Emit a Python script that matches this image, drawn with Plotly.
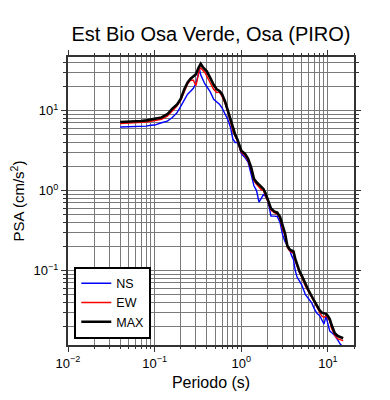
import plotly.graph_objects as go

# ---- data ----
periods = [0.04, 0.05, 0.06, 0.07, 0.08, 0.09, 0.10, 0.12, 0.14, 0.16, 0.18, 0.20,
           0.22, 0.24, 0.26, 0.28, 0.30, 0.32, 0.33, 0.34, 0.36, 0.38, 0.40, 0.44,
           0.48, 0.52, 0.56, 0.60, 0.65, 0.70, 0.75, 0.80, 0.85, 0.90, 0.95, 1.0,
           1.1, 1.2, 1.3, 1.4, 1.5, 1.6, 1.7, 1.8, 1.9, 2.0, 2.1, 2.2, 2.4, 2.6,
           2.8, 3.0, 3.2, 3.4, 3.6, 3.8, 4.0, 4.2, 4.4, 4.7, 5.0, 5.5, 6.0, 6.5,
           7.0, 7.5, 8.0, 8.5, 9.0, 9.5, 10.0, 10.5, 11.0, 12.0, 13.0, 14.0, 15.0]

psa_max = [7.2, 7.25, 7.3, 7.4, 7.55, 7.7, 7.9, 8.2, 9.0, 10.6, 11.8, 14.0,
           18.5, 22.5, 25.0, 26.5, 28.5, 34.0, 36.5, 38.4, 35.0, 33.0, 31.0, 25.5,
           21.0, 18.5, 17.6, 16.0, 13.0, 10.0, 7.6, 5.9, 5.0, 4.4, 3.7, 3.15,
           2.9, 2.5, 1.95, 1.4, 1.27, 1.18, 1.1, 1.05, 0.93, 0.79, 0.70, 0.60, 0.55, 0.53,
           0.47, 0.35, 0.29, 0.205, 0.185, 0.178, 0.174, 0.14, 0.118, 0.098, 0.086, 0.067, 0.056, 0.0478,
           0.0415, 0.0365, 0.032, 0.0298, 0.0295, 0.0288, 0.027, 0.0248, 0.021, 0.0165, 0.0152, 0.0146, 0.0143]

psa_ns = [6.25, 6.3, 6.3, 6.35, 6.4, 6.55, 6.6, 7.05, 7.4, 8.2, 9.3, 11.3,
          13.5, 16.0, 17.5, 19.0, 22.0, 28.0, 32.5, 28.0, 24.0, 21.5, 20.0, 17.0,
          13.8, 12.8, 12.0, 10.8, 9.0, 7.7, 6.2, 4.4, 4.0, 4.0, 3.5, 2.9,
          2.6, 2.25, 1.6, 1.15, 1.0, 0.72, 0.8, 0.89, 0.85, 0.78, 0.62, 0.48, 0.48, 0.475,
          0.40, 0.28, 0.23, 0.205, 0.185, 0.155, 0.138, 0.10, 0.083, 0.074, 0.066, 0.050, 0.044, 0.0395,
          0.033, 0.029, 0.0275, 0.024, 0.0215, 0.0268, 0.021, 0.0175, 0.0168, 0.0155, 0.0135, 0.0119, 0.0112]

psa_ew = [6.9, 6.95, 7.0, 7.1, 7.2, 7.35, 7.5, 7.8, 8.5, 10.0, 11.3, 13.5,
          17.5, 21.5, 24.0, 24.0, 20.5, 28.0, 33.0, 34.0, 32.0, 30.0, 27.0, 22.0,
          18.5, 16.8, 17.0, 15.0, 12.3, 9.5, 7.2, 5.6, 4.8, 4.2, 3.5, 3.0,
          2.75, 2.35, 1.85, 1.33, 1.2, 1.1, 1.03, 1.0, 0.88, 0.75, 0.66, 0.57, 0.53, 0.51,
          0.45, 0.33, 0.275, 0.195, 0.178, 0.17, 0.165, 0.132, 0.112, 0.094, 0.082, 0.064, 0.054, 0.046,
          0.040, 0.035, 0.031, 0.027, 0.026, 0.0275, 0.0255, 0.0235, 0.019, 0.0155, 0.014, 0.0135, 0.0133]

title_text = "Est Bio Osa Verde, Osa (PIRO)"
x_label = "Periodo (s)"
y_label = "PSA (cm/s<sup>2</sup>)"
x_tick_vals = [0.01, 0.1, 1, 10]
x_tick_text = ["10<sup>−2</sup>", "10<sup>−1</sup>", "10<sup>0</sup>", "10<sup>1</sup>"]
y_tick_vals = [0.1, 1, 10]
y_tick_text = ["10<sup>−1</sup>", "10<sup>0</sup>", "10<sup>1</sup>"]

def minor_vals(lo_exp, hi_exp):
    vals = []
    for e in range(lo_exp, hi_exp + 1):
        for m in range(2, 10):
            vals.append(m * 10 ** e)
    return vals

FONT = "Liberation Sans, Arial, Helvetica, sans-serif"

# the page body adds an 8px offset; the figure is sized to fill the rest
W, H = 382, 392

fig = go.Figure()
fig.add_trace(go.Scatter(x=periods, y=psa_ns, mode="lines", name="NS",
                         line=dict(color="#0000ff", width=1.4)))
fig.add_trace(go.Scatter(x=periods, y=psa_ew, mode="lines", name="EW",
                         line=dict(color="#ff0000", width=1.4)))
fig.add_trace(go.Scatter(x=periods, y=psa_max, mode="lines", name="MAX",
                         line=dict(color="#000000", width=2.6)))

grid_col = "#7a7a7a"
axis_common = dict(
    type="log", showline=True, linecolor="#333333", linewidth=2, mirror="allticks",
    ticks="outside", ticklen=5, tickwidth=1, tickcolor="#333333",
    showgrid=True, gridcolor=grid_col, gridwidth=1, zeroline=False, automargin=False,
    tickfont=dict(family=FONT, size=13, color="#000000"),
)

fig.update_xaxes(
    **axis_common, range=[-2, 1.301],
    tickmode="array", tickvals=x_tick_vals, ticktext=x_tick_text,
    minor=dict(tickvals=minor_vals(-2, 1), showgrid=True, gridcolor=grid_col,
               gridwidth=1, ticks="outside", ticklen=2, tickcolor="#333333"),
    title=dict(text=x_label, font=dict(family=FONT, size=16, color="#000000"), standoff=7),
)
fig.update_yaxes(
    **axis_common, range=[-1.93, 1.67],
    tickmode="array", tickvals=y_tick_vals, ticktext=y_tick_text,
    minor=dict(tickvals=minor_vals(-2, 1), showgrid=True, gridcolor=grid_col,
               gridwidth=1, ticks="outside", ticklen=3, tickcolor="#333333"),
    title=dict(text=y_label, font=dict(family=FONT, size=15, color="#000000"), standoff=8),
)

fig.update_layout(
    width=W, height=H,
    margin=dict(l=60, r=36, t=49, b=55, autoexpand=False),
    paper_bgcolor="white", plot_bgcolor="white",
    title=dict(text=title_text, x=203 / W, xanchor="center", y=1 - 26 / H, yanchor="middle",
               font=dict(family=FONT, size=20, color="#000000")),
    showlegend=True,
    legend=dict(x=0.022, y=0.022, xanchor="left", yanchor="bottom",
                bgcolor="white", bordercolor="#000000", borderwidth=2,
                font=dict(family=FONT, size=12.5, color="#000000"),
                itemwidth=30, tracegroupgap=0),
    font=dict(family=FONT),
)

fig.write_html("out.html")
